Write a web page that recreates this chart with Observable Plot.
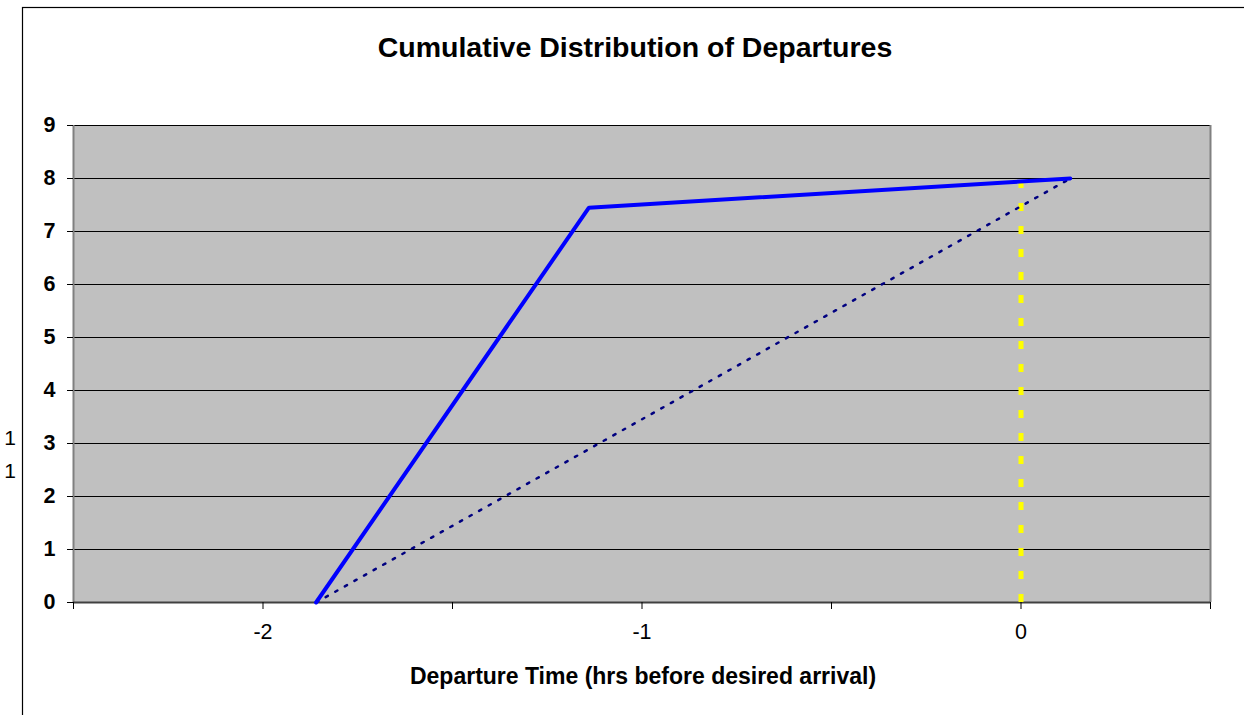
<!DOCTYPE html>
<html>
<head>
<meta charset="utf-8">
<script src="https://cdn.jsdelivr.net/npm/d3@7"></script>
<script src="https://cdn.jsdelivr.net/npm/@observablehq/plot@0.6"></script>
<style>
  html, body { margin: 0; padding: 0; background: #ffffff; }
  #chart { width: 1244px; height: 715px; overflow: hidden; }
</style>
</head>
<body>
<div id="chart"></div>
<script>
// Data
const title = "Cumulative Distribution of Departures";
const xLabel = "Departure Time (hrs before desired arrival)";
const departureX = [-1.86, -1.14, 0.13];
const departureY = [0, 7.45, 8];
const uniformX = [-1.86, 0.13];
const uniformY = [0, 8];
const arrivalX = [0];
const arrivalTop = [8];
const xTicks = [-2.5, -2, -1.5, -1, -0.5, 0, 0.5];
const xTickLabels = ["", "-2", "", "-1", "", "0", ""];
const yTicks = [0, 1, 2, 3, 4, 5, 6, 7, 8, 9];
const yGrid = [1, 2, 3, 4, 5, 6, 7, 8, 9];
const clippedYLabel = ["1", "1"];

const departures = departureX.map((x, i) => ({x, y: departureY[i]}));
const uniform = uniformX.map((x, i) => ({x, y: uniformY[i]}));
const arrival = arrivalX.map((x, i) => ({x, y1: 0, y2: arrivalTop[i]}));

const font = "Liberation Sans, Arial, Helvetica, sans-serif";

const plot = Plot.plot({
  width: 1244,
  height: 715,
  marginLeft: 73,
  marginRight: 34,
  marginTop: 125,
  marginBottom: 113,
  style: {fontFamily: font, fontSize: "21px", background: "#ffffff", color: "#000000", overflow: "visible"},
  x: {domain: [-2.5, 0.5]},
  y: {domain: [0, 9]},
  marks: [
    Plot.frame({fill: "#C0C0C0", stroke: "none"}),
    Plot.ruleY(yGrid, {stroke: "#000000", strokeWidth: 1}),
    Plot.ruleX([xTicks[0]], {stroke: "#808080", strokeWidth: 2}),
    Plot.ruleX([xTicks[xTicks.length - 1]], {stroke: "#808080", strokeWidth: 2}),
    Plot.ruleY([0], {stroke: "#404040", strokeWidth: 2}),
    Plot.ruleX(arrival, {x: "x", y1: "y1", y2: "y2", stroke: "#FFFF00", strokeWidth: 5, strokeDasharray: "8,15"}),
    Plot.line(uniform, {x: "x", y: "y", stroke: "#000080", strokeWidth: 2.5, strokeDasharray: "2.5,8.5"}),
    Plot.line(departures, {x: "x", y: "y", stroke: "#0000FF", strokeWidth: 4, strokeLinejoin: "miter"}),
    Plot.axisY({ticks: yTicks, tickSize: 6, tickPadding: 12, fontWeight: "bold", fontSize: 21.5, label: null, stroke: "#000000"}),
    Plot.axisX({ticks: xTicks, tickSize: 7, tickPadding: 14, fontSize: 21.5,
      tickFormat: (d) => xTickLabels[xTicks.indexOf(d)] ?? "", label: null, stroke: "#000000"}),
    Plot.text([title], {frameAnchor: "top", lineAnchor: "bottom", dy: -69, dx: -7,
      fontSize: 28.5, fontWeight: "bold", fill: "#000000"}),
    Plot.text([xLabel], {frameAnchor: "bottom", lineAnchor: "bottom", dy: 81, dx: 1,
      fontSize: 23, fontWeight: "bold", fill: "#000000"})
  ]
});

// outer chart border (Excel chart area frame)
const svg = d3.select(plot);
svg.append("rect")
  .attr("x", 22.5).attr("y", 7.5)
  .attr("width", 1300).attr("height", 800)
  .attr("fill", "none").attr("stroke", "#000000").attr("stroke-width", 1.2);

// clipped y-axis title fragments to the left of the border
svg.selectAll("text.clipped").data(clippedYLabel).join("text")
  .attr("class", "clipped")
  .attr("x", 10).attr("y", (d, i) => [445, 478][i])
  .attr("font-size", 21).attr("font-family", font).attr("fill", "#000000")
  .text(d => d);

document.getElementById("chart").appendChild(plot);
</script>
</body>
</html>
